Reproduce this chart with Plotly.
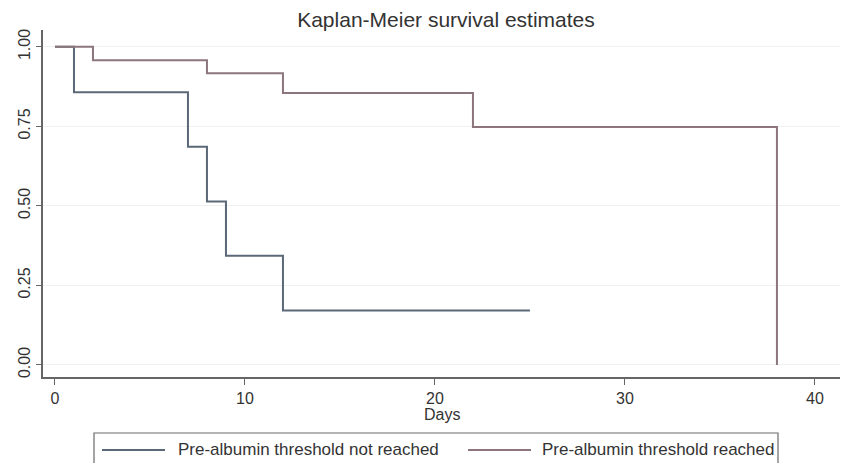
import plotly.graph_objects as go

# Data (Kaplan-Meier step estimates)
days_not_reached = [0, 1, 7, 8, 9, 12, 25]
surv_not_reached = [1.0, 0.857, 0.686, 0.514, 0.343, 0.171, 0.171]
days_reached = [0, 2, 8, 12, 22, 38]
surv_reached = [1.0, 0.958, 0.917, 0.855, 0.748, 0.0]
names = ["Pre-albumin threshold not reached", "Pre-albumin threshold reached"]
x_ticks = [0, 10, 20, 30, 40]
y_ticks = [0.0, 0.25, 0.5, 0.75, 1.0]
y_tick_labels = ["0.00", "0.25", "0.50", "0.75", "1.00"]

blue = "#5b6877"
red = "#8c767b"
FONT = "Liberation Sans, Arial, sans-serif"
W, H = 848, 463
OFF = 8  # page body margin offset
# plot area in screen pixels: left 43, top 30, bottom 377, right 848
L = 43 - OFF
T = 30 - OFF
B = H - (377 - OFF)
R = W - (848 - OFF)

fig = go.Figure()
fig.add_trace(go.Scatter(x=days_not_reached, y=surv_not_reached, mode="lines",
                         line=dict(shape="hv", color=blue, width=2), name=names[0],
                         showlegend=False))
fig.add_trace(go.Scatter(x=days_reached, y=surv_reached, mode="lines",
                         line=dict(shape="hv", color=red, width=2), name=names[1],
                         showlegend=False))

pw = W - L - R
ph = H - T - B


def px_x(p):  # screen pixel x -> paper x
    return (p - OFF - L) / pw


def px_y(p):  # screen pixel y -> paper y
    return (H - B - (p - OFF)) / ph


shapes = [
    # legend box
    dict(type="rect", xref="paper", yref="paper", x0=px_x(94), x1=px_x(778),
         y0=px_y(480), y1=px_y(433), line=dict(color="#6a6a6a", width=1.2),
         fillcolor="white", layer="above"),
    dict(type="line", xref="paper", yref="paper", x0=px_x(102), x1=px_x(165),
         y0=px_y(450), y1=px_y(450), line=dict(color=blue, width=2)),
    dict(type="line", xref="paper", yref="paper", x0=px_x(468), x1=px_x(531),
         y0=px_y(450), y1=px_y(450), line=dict(color=red, width=2)),
]
annotations = [
    dict(text=names[0], xref="paper", yref="paper", x=px_x(176), y=px_y(450),
         xanchor="left", yanchor="middle", showarrow=False,
         font=dict(size=17, color="#333333")),
    dict(text=names[1], xref="paper", yref="paper", x=px_x(540), y=px_y(450),
         xanchor="left", yanchor="middle", showarrow=False,
         font=dict(size=17, color="#333333")),
    dict(text="Days", xref="paper", yref="paper", x=px_x(442), y=px_y(414),
         xanchor="center", yanchor="middle", showarrow=False,
         font=dict(size=16, color="#333333")),
]

fig.update_layout(
    width=W, height=H,
    margin=dict(l=L, r=R, t=T, b=B, autoexpand=False),
    paper_bgcolor="white", plot_bgcolor="white",
    font=dict(family=FONT, color="#333333", size=16),
    title=dict(text="Kaplan-Meier survival estimates", x=px_x(446) * pw / W + L / W,
               xanchor="center", y=1 - 12 / H, yanchor="middle",
               font=dict(size=21, color="#333333")),
    showlegend=False,
    shapes=shapes,
    annotations=annotations,
    xaxis=dict(range=[-0.63, 41.74], tickvals=x_ticks, ticks="outside", ticklen=6,
               tickcolor="#666666", showline=True, linecolor="#666666", linewidth=1.5,
               showgrid=False, zeroline=False, automargin=False, tickfont=dict(size=16)),
    yaxis=dict(range=[-0.038, 1.053], tickvals=y_ticks, ticktext=y_tick_labels,
               tickangle=-90, ticks="outside", ticklen=5, tickcolor="#666666",
               showline=True, linecolor="#666666", linewidth=1.5, automargin=False,
               showgrid=True, gridcolor="#f0f0f0", zeroline=False, tickfont=dict(size=16)),
)

fig.write_html("out.html")
